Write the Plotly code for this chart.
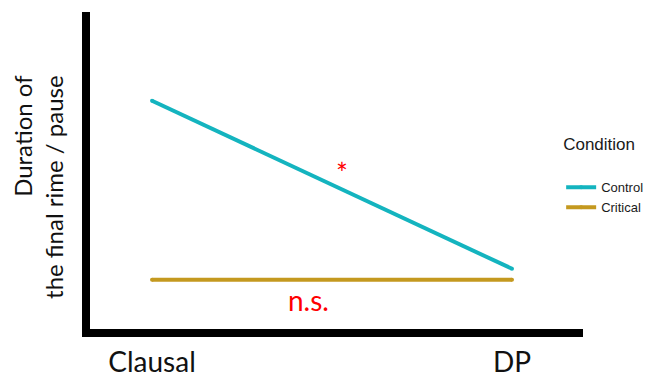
import plotly.graph_objects as go

# Position of the constituent boundary
categories = ["Clausal", "DP"]

# Mean duration of the final rime / pause (arbitrary units)
control_values = [7.2, 1.9]
critical_values = [1.55, 1.55]

series_names = ["Control", "Critical"]
series_colors = ["#14B4BF", "#C4991F"]

fig = go.Figure()
for name, values, color in zip(series_names, [control_values, critical_values], series_colors):
    fig.add_trace(go.Scatter(
        x=categories,
        y=values,
        name=name,
        mode="lines+markers",
        line=dict(color=color, width=4),
        marker=dict(color=color, size=4),
    ))

label_font = dict(family="Lato", size=28, color="#111111")

fig.update_layout(
    width=645,
    height=378,
    margin=dict(l=90, r=62, t=12, b=49, autoexpand=False),
    paper_bgcolor="white",
    plot_bgcolor="white",
    xaxis=dict(
        type="category",
        range=[-0.1723, 1.1972],
        showgrid=False,
        zeroline=False,
        showline=True,
        linecolor="black",
        linewidth=8,
        ticks="",
        tickfont=label_font,
        ticklabelstandoff=1,
        automargin=False,
        fixedrange=True,
    ),
    yaxis=dict(
        range=[0, 10],
        showgrid=False,
        zeroline=False,
        showline=True,
        linecolor="black",
        linewidth=8,
        ticks="",
        showticklabels=False,
        automargin=False,
        fixedrange=True,
    ),
    legend=dict(
        title=dict(text="Condition<br> ", font=dict(family="Liberation Sans", size=17, color="#1a1a1a")),
        font=dict(family="Liberation Sans", size=13, color="#1a1a1a"),
        xref="container",
        yref="container",
        x=0.870,
        xanchor="left",
        y=0.661,
        yanchor="top",
        bgcolor="rgba(0,0,0,0)",
        itemwidth=30,
    ),
    annotations=[
        dict(
            text="Duration of<br>the final rime / pause",
            xref="paper", yref="paper",
            x=-0.1055, y=0.448,
            xanchor="center", yanchor="middle",
            textangle=-90,
            align="right",
            showarrow=False,
            font=dict(family="Lato", size=24, color="#111111"),
        ),
        dict(
            text="*",
            xref="x", yref="y",
            x=0.528, y=4.92,
            xanchor="center", yanchor="middle",
            showarrow=False,
            font=dict(family="Lato", size=28, color="#FF0000"),
        ),
        dict(
            text="n.s.",
            xref="x", yref="y",
            x=0.436, y=0.915,
            xanchor="center", yanchor="middle",
            showarrow=False,
            font=dict(family="Lato", size=28, color="#FF0000"),
        ),
    ],
)

fig.write_html("out.html")
